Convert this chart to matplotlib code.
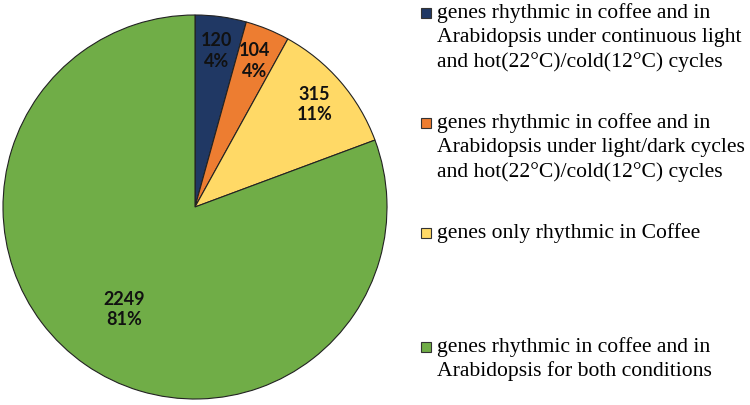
import matplotlib
matplotlib.use("Agg")
import matplotlib.pyplot as plt
from matplotlib.patches import Rectangle
import numpy as np

counts = [120, 104, 315, 2249]
colors = ["#203864", "#ED7D31", "#FFD966", "#70AD47"]
legend_labels = [
    "genes rhythmic in coffee and in\nArabidopsis under continuous light\nand hot(22°C)/cold(12°C) cycles",
    "genes rhythmic in coffee and in\nArabidopsis under light/dark cycles\nand hot(22°C)/cold(12°C) cycles",
    "genes only rhythmic in Coffee",
    "genes rhythmic in coffee and in\nArabidopsis for both conditions",
]

W, H = 750, 405
fig = plt.figure(figsize=(W / 100, H / 100), dpi=100)

# pie axes: centre (195, 207) px, radius 192 px
cx, cy, r = 195, 207, 192
ax = fig.add_axes([(cx - r) / W, (H - cy - r) / H, 2 * r / W, 2 * r / H])
wedges, _ = ax.pie(counts, colors=colors, startangle=90, counterclock=False,
                   wedgeprops=dict(edgecolor="#222222", linewidth=0.8))
ax.set_xlim(-1, 1)
ax.set_ylim(-1, 1)
ax.set_aspect("equal")
ax.axis("off")

total = sum(counts)
label_dist = [0.82, 0.82, 0.82, 0.65]
for w, n, d in zip(wedges, counts, label_dist):
    ang = np.deg2rad((w.theta1 + w.theta2) / 2)
    ax.text(d * np.cos(ang), d * np.sin(ang), f"{n}\n{round(100 * n / total)}%",
            ha="center", va="center", fontsize=13, fontweight="bold",
            family="Lato", linespacing=1.25, color="#111111")

# legend drawn by hand (uneven vertical gaps in the original)
first_line_y = [13, 123, 233, 347]
line_h = 24.5
for y0, lab, col in zip(first_line_y, legend_labels, colors):
    fig.patches.append(Rectangle((421 / W, 1 - (y0 + 5) / H), 10 / W, 10 / H,
                                 transform=fig.transFigure, facecolor=col,
                                 edgecolor="#333333", linewidth=0.8))
    for i, line in enumerate(lab.split("\n")):
        fig.text(437 / W, 1 - (y0 + i * line_h) / H, line, ha="left",
                 va="center", fontsize=15.6, family="Liberation Serif",
                 color="black")

fig.savefig("out.png", dpi=100)
